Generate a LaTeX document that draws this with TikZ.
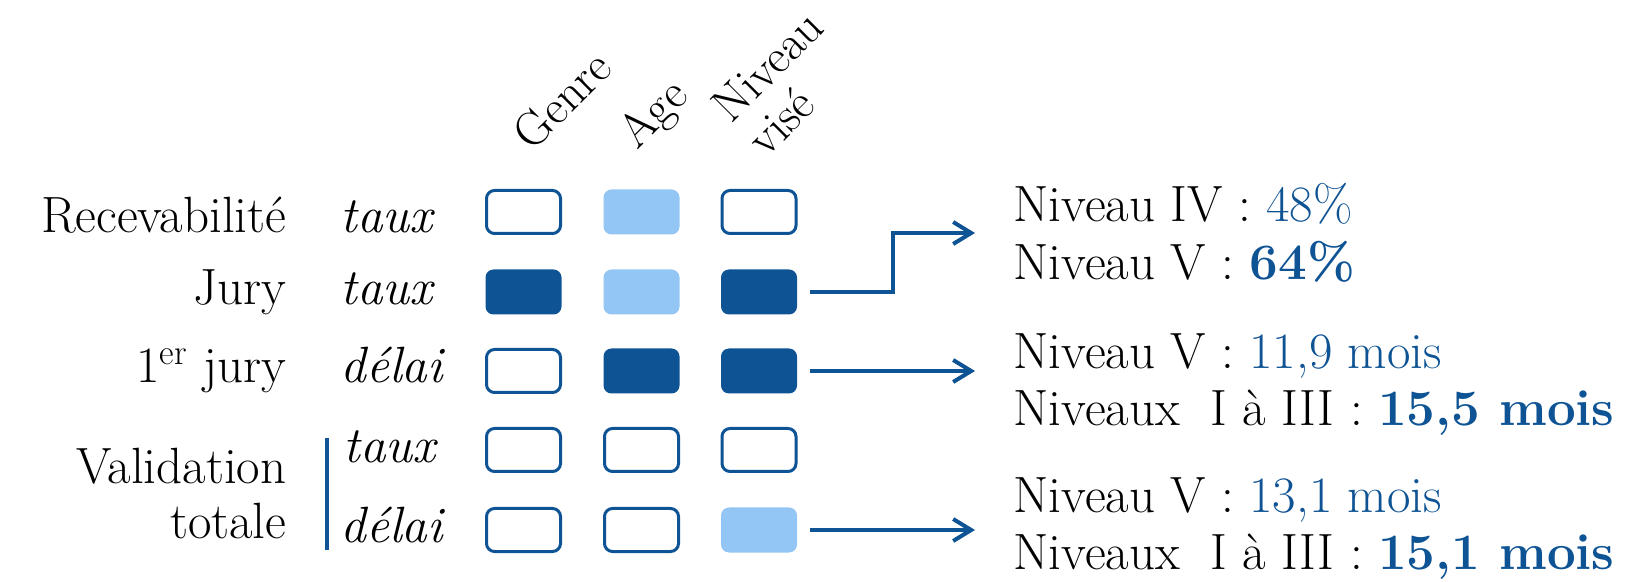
\documentclass[tikz,border=0pt]{standalone}
\usepackage{tikz}
\usetikzlibrary{arrows.meta}
\definecolor{dblue}{RGB}{14,83,148}
\definecolor{lblue}{RGB}{147,198,245}

\begin{document}
\begin{tikzpicture}[x=0.5pt,y=-0.5pt,>={Straight Barb[length=9pt,width=11pt]},every node/.style={font=\fontsize{25.5}{29}\selectfont},semithick]
	\tikzstyle{cell}=[rounded corners=4pt,inner sep=0pt,minimum width=38pt,minimum height=22.5pt]
	\tikzstyle{hollow}=[cell,draw=dblue,line width=1.5pt,minimum width=37pt,minimum height=21.5pt]
	\tikzstyle{pale}=[cell,fill=lblue]
	\tikzstyle{dark}=[cell,fill=dblue]
	\tikzstyle{head}=[rotate=45,inner sep=0pt,font=\fontsize{24}{24.5}\selectfont]
	\tikzstyle{link}=[->,draw=dblue,line width=2pt,shorten <=6pt]
	\useasboundingbox (0,0) rectangle (1628,582);
	% column heads
	\node [head] (genre) at (562,100) {Genre};
	\node [head] (age) at (655,116) {Age};
	\node [head,align=left] (niveau) at (785,83) {Niveau\\vis\'e};
	% row heads
	\node [anchor=base east,inner sep=0pt] (rec) at (287,233) {Recevabilit\'e};
	\node [anchor=base east,inner sep=0pt] (jury) at (287,305) {Jury};
	\node [anchor=base east,inner sep=0pt] (jury1) at (287,383) {1\textsuperscript{er} jury};
	\node [anchor=east,inner sep=0pt,align=right,font=\fontsize{25.5}{27.5}\selectfont] (valid) at (287,494) {Validation\\totale};
	\draw [dblue,line width=2pt] (327,438) -- (327,550);
	\node [anchor=base west,inner sep=0pt] (m1) at (340,233) {\textit{taux}};
	\node [anchor=base west,inner sep=0pt] (m2) at (340,305) {\textit{taux}};
	\node [anchor=base west,inner sep=0pt] (m3) at (340,383) {\textit{d\'elai}};
	\node [anchor=base west,inner sep=0pt] (m4) at (343,463) {\textit{taux}};
	\node [anchor=base west,inner sep=0pt] (m5) at (340,543) {\textit{d\'elai}};
	% cells
	\node [hollow] (b11) at (523.5,212) {};
	\node [pale] (b12) at (641.5,212) {};
	\node [hollow] (b13) at (759,212) {};
	\node [dark] (b21) at (523.5,292) {};
	\node [pale] (b22) at (641.5,292) {};
	\node [dark] (b23) at (759,292) {};
	\node [hollow] (b31) at (523.5,371) {};
	\node [dark] (b32) at (641.5,371) {};
	\node [dark] (b33) at (759,371) {};
	\node [hollow] (b41) at (523.5,450) {};
	\node [hollow] (b42) at (641.5,450) {};
	\node [hollow] (b43) at (759,450) {};
	\node [hollow] (b51) at (523.5,530) {};
	\node [hollow] (b52) at (641.5,530) {};
	\node [pale] (b53) at (759,530) {};
	% results
	\node [anchor=west,align=left,inner xsep=19pt,inner ysep=0pt] (r1) at (975,233) {Niveau IV : \textcolor{dblue}{48\%}\\Niveau V : \textcolor{dblue}{\textbf{64\%}}};
	\node [anchor=west,align=left,inner xsep=19pt,inner ysep=0pt,font=\fontsize{25.5}{28.5}\selectfont] (r2) at (975,385) {Niveau V : \textcolor{dblue}{11,9 mois}\\Niveaux\ \ I \`a III : \textcolor{dblue}{\textbf{15,5 mois}}};
	\node [anchor=west,align=left,inner xsep=19pt,inner ysep=0pt,font=\fontsize{25.5}{28.5}\selectfont] (r3) at (975,529) {Niveau V : \textcolor{dblue}{13,1 mois}\\Niveaux\ \ I \`a III : \textcolor{dblue}{\textbf{15,1 mois}}};
	\draw [link] (b23.east) -- ++(95,0) |- (r1.west);
	\draw [link] (b33.east) -- (b33.east -| r2.west);
	\draw [link] (b53.east) -- (b53.east -| r3.west);
\end{tikzpicture}
\end{document}
